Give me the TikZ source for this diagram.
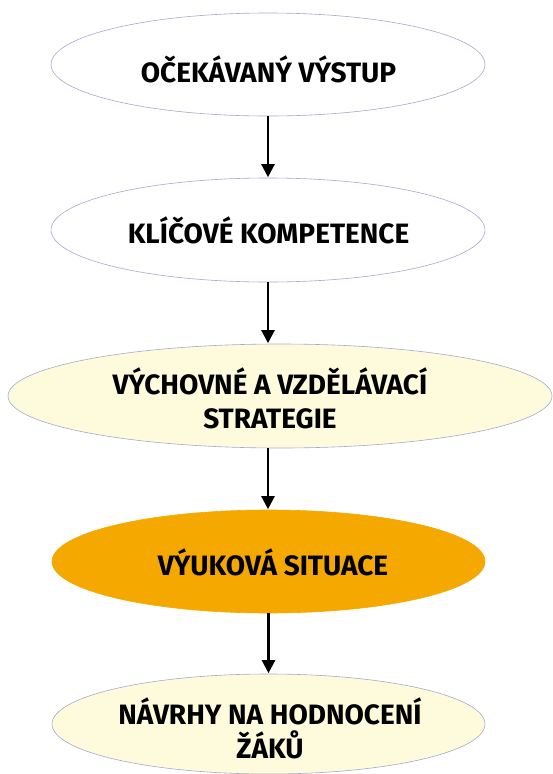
\documentclass[tikz,border=0pt]{standalone}
\usepackage{fontspec}
\setmainfont{Fira Sans}
\usetikzlibrary{shapes.geometric,arrows.meta}
\definecolor{edgec}{HTML}{A3AACB}
\definecolor{paley}{HTML}{FEFBDD}
\definecolor{orng}{HTML}{F4A800}
\tikzset{
  oval/.style={ellipse, draw=edgec, line width=0.6pt, inner sep=0pt},
  lbl/.style={font=\bfseries\fontsize{28}{34}\selectfont, align=center, text=black, inner sep=0pt},
  arr/.style={line width=2.3pt, -{Triangle[length=13pt,width=13pt]}, shorten >=0.5pt}
}
\begin{document}
\begin{tikzpicture}[x=1pt,y=-1pt]
\useasboundingbox (0,0) rectangle (553,774);
\node[oval, fill=white, minimum width=434pt, minimum height=103pt] (e1) at (268,64.5) {};
\node[oval, fill=white, minimum width=434pt, minimum height=104pt] (e2) at (268,230) {};
\node[oval, fill=paley, minimum width=544pt, minimum height=104pt] (e3) at (280,396) {};
\node[oval, fill=orng, draw=orng, minimum width=433pt, minimum height=103pt] (e4) at (268.5,561.5) {};
\node[oval, fill=paley, minimum width=433pt, minimum height=100pt] (e5) at (268.5,724) {};
\node[lbl] (t1) at (268.5,69.5) {OČEKÁVANÝ VÝSTUP};
\node[lbl] (t2) at (268.5,230) {KLÍČOVÉ KOMPETENCE};
\node[lbl] (t3) at (270,398) {VÝCHOVNÉ A VZDĚLÁVACÍ\\STRATEGIE};
\node[lbl] (t4) at (273,562) {VÝUKOVÁ SITUACE};
\node[lbl] (t5) at (270,728) {NÁVRHY NA HODNOCENÍ\\ŽÁKŮ};
\draw[arr] (e1.south) -- (e1.south |- e2.north);
\draw[arr] (e2.south) -- (e2.south |- e3.north);
\draw[arr] (e2.south |- e3.south) -- (e2.south |- e4.north);
\draw[arr] (e4.south) -- (e5.north);
\end{tikzpicture}
\end{document}
